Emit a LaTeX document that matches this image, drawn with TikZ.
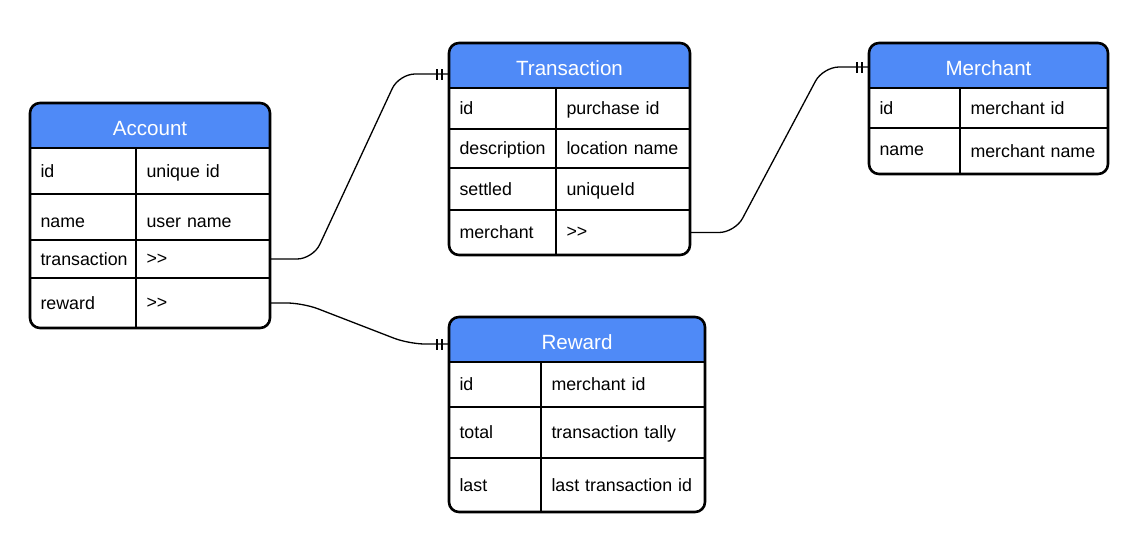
\documentclass[tikz,border=0pt]{standalone}
\usepackage{fontspec}
\setmainfont{Liberation Sans}
\usepackage{tikz}
\usetikzlibrary{positioning, fit, backgrounds, decorations.markings}
\definecolor{headblue}{RGB}{79,138,247}
\tikzset{
  header/.style = {
    rectangle,
    minimum height=45pt,
    inner sep=0pt,
    outer sep=0pt,
    text=white,
    text height=20pt,
    text depth=0pt,
    font=\fontsize{20.6pt}{24pt}\selectfont
  },
  cell/.style = {
    rectangle,
    inner xsep=10.5pt,
    inner ysep=0pt,
    outer sep=0pt,
    align=left,
    text depth=0pt,
    font=\fontsize{17.8pt}{21pt}\selectfont,
    execute at begin node={\hyphenpenalty=10000\relax}
  },
  keycell/.style = {cell, text width=#1},
  valcell/.style = {cell, text width=#1},
  tablebox/.style = {
    draw=black,
    line width=2.6pt,
    rounded corners=10pt,
    inner sep=0pt,
    outer sep=0pt
  },
  rowline/.style = {
    draw=black,
    line width=1.3pt
  },
  relation/.style = {
    draw=black,
    line width=1.3pt,
    rounded corners=16pt,
    postaction={decorate},
    decoration={markings,
      mark=at position -12pt with {\draw[line width=1.2pt] (0,-5.5pt) -- (0,5.5pt);},
      mark=at position -7pt with {\draw[line width=1.2pt] (0,-5.5pt) -- (0,5.5pt);}
    }
  }
}

\begin{document}
\begin{tikzpicture}[x=1pt, y=-1pt]

\useasboundingbox (0,0) rectangle (1138,547);
\begin{pgfonlayer}{background}
  \fill[white] (0,0) rectangle (1138,547);
\end{pgfonlayer}

% ===== Account =====
\node (acc) [header, minimum width=240pt, anchor=north west] at (30,103) {Account};
\node (acc-k1) [keycell=85pt, minimum height=46pt, below right=0pt and 0pt of acc.south west] {id};
\node (acc-v1) [valcell=113pt, minimum height=46pt, right=0pt of acc-k1] {unique id};
\node (acc-k2) [keycell=85pt, minimum height=46pt, text height=21pt, below right=0pt and 0pt of acc-k1.south west] {name};
\node (acc-v2) [valcell=113pt, minimum height=46pt, text height=21pt, right=0pt of acc-k2] {user name};
\node (acc-k3) [keycell=85pt, minimum height=38pt, below right=0pt and 0pt of acc-k2.south west] {transaction};
\node (acc-v3) [valcell=113pt, minimum height=38pt, right=0pt of acc-k3] {>{}>};
\node (acc-k4) [keycell=85pt, minimum height=50pt, below right=0pt and 0pt of acc-k3.south west] {reward};
\node (acc-v4) [valcell=113pt, minimum height=50pt, right=0pt of acc-k4] {>{}>};

\begin{pgfonlayer}{background}
  \begin{scope}
    \clip[rounded corners=10pt] (acc.north west) rectangle (acc-v4.south east);
    \fill[headblue] (acc.north west) rectangle (acc.south east);
  \end{scope}
\end{pgfonlayer}
\draw[rowline] (acc-k1.north west) -- (acc-v1.north east);
\draw[rowline] (acc-k2.north west) -- (acc-v2.north east);
\draw[rowline] (acc-k3.north west) -- (acc-v3.north east);
\draw[rowline] (acc-k4.north west) -- (acc-v4.north east);
\draw[rowline] (acc-k1.north east) -- (acc-k4.south east);
\node (acc-box) [tablebox, fit=(acc)(acc-v4)] {};

% ===== Transaction =====
\node (trn) [header, minimum width=241pt, anchor=north west] at (449,43) {Transaction};
\node (trn-k1) [keycell=86pt, minimum height=41pt, below right=0pt and 0pt of trn.south west] {id};
\node (trn-v1) [valcell=113pt, minimum height=41pt, right=0pt of trn-k1] {purchase id};
\node (trn-k2) [keycell=86pt, minimum height=39pt, below right=0pt and 0pt of trn-k1.south west] {description};
\node (trn-v2) [valcell=113pt, minimum height=39pt, right=0pt of trn-k2] {location name};
\node (trn-k3) [keycell=86pt, minimum height=42pt, below right=0pt and 0pt of trn-k2.south west] {settled};
\node (trn-v3) [valcell=113pt, minimum height=42pt, right=0pt of trn-k3] {uniqueId};
\node (trn-k4) [keycell=86pt, minimum height=45pt, below right=0pt and 0pt of trn-k3.south west] {merchant};
\node (trn-v4) [valcell=113pt, minimum height=45pt, right=0pt of trn-k4] {>{}>};

\begin{pgfonlayer}{background}
  \begin{scope}
    \clip[rounded corners=10pt] (trn.north west) rectangle (trn-v4.south east);
    \fill[headblue] (trn.north west) rectangle (trn.south east);
  \end{scope}
\end{pgfonlayer}
\draw[rowline] (trn-k1.north west) -- (trn-v1.north east);
\draw[rowline] (trn-k2.north west) -- (trn-v2.north east);
\draw[rowline] (trn-k3.north west) -- (trn-v3.north east);
\draw[rowline] (trn-k4.north west) -- (trn-v4.north east);
\draw[rowline] (trn-k1.north east) -- (trn-k4.south east);
\node (trn-box) [tablebox, fit=(trn)(trn-v4)] {};

% ===== Merchant =====
\node (mer) [header, minimum width=239pt, anchor=north west] at (869,43) {Merchant};
\node (mer-k1) [keycell=70pt, minimum height=40pt, below right=0pt and 0pt of mer.south west] {id};
\node (mer-v1) [valcell=127pt, minimum height=40pt, right=0pt of mer-k1] {merchant id};
\node (mer-k2) [keycell=70pt, minimum height=46pt, below right=0pt and 0pt of mer-k1.south west] {name};
\node (mer-v2) [valcell=127pt, minimum height=46pt, right=0pt of mer-k2] {merchant name};

\begin{pgfonlayer}{background}
  \begin{scope}
    \clip[rounded corners=10pt] (mer.north west) rectangle (mer-v2.south east);
    \fill[headblue] (mer.north west) rectangle (mer.south east);
  \end{scope}
\end{pgfonlayer}
\draw[rowline] (mer-k1.north west) -- (mer-v1.north east);
\draw[rowline] (mer-k2.north west) -- (mer-v2.north east);
\draw[rowline] (mer-k1.north east) -- (mer-k2.south east);
\node (mer-box) [tablebox, fit=(mer)(mer-v2)] {};

% ===== Reward =====
\node (rwd) [header, minimum width=256pt, anchor=north west] at (449,317) {Reward};
\node (rwd-k1) [keycell=71pt, minimum height=45pt, below right=0pt and 0pt of rwd.south west] {id};
\node (rwd-v1) [valcell=143pt, minimum height=45pt, right=0pt of rwd-k1] {merchant id};
\node (rwd-k2) [keycell=71pt, minimum height=51pt, below right=0pt and 0pt of rwd-k1.south west] {total};
\node (rwd-v2) [valcell=143pt, minimum height=51pt, right=0pt of rwd-k2] {transaction tally};
\node (rwd-k3) [keycell=71pt, minimum height=54pt, below right=0pt and 0pt of rwd-k2.south west] {last};
\node (rwd-v3) [valcell=143pt, minimum height=54pt, right=0pt of rwd-k3] {last transaction id};

\begin{pgfonlayer}{background}
  \begin{scope}
    \clip[rounded corners=10pt] (rwd.north west) rectangle (rwd-v3.south east);
    \fill[headblue] (rwd.north west) rectangle (rwd.south east);
  \end{scope}
\end{pgfonlayer}
\draw[rowline] (rwd-k1.north west) -- (rwd-v1.north east);
\draw[rowline] (rwd-k2.north west) -- (rwd-v2.north east);
\draw[rowline] (rwd-k3.north west) -- (rwd-v3.north east);
\draw[rowline] (rwd-k1.north east) -- (rwd-k3.south east);
\node (rwd-box) [tablebox, fit=(rwd)(rwd-v3)] {};

% ===== Relations =====
\draw[relation] (acc-v3.east) -- ++(43,0) -- ([xshift=-50pt, yshift=-8.5pt]trn.west) -- ([yshift=-8.5pt]trn.west);
\draw[relation] (acc-v4.east) -- ++(33,0) -- ([xshift=-40pt, yshift=-4.5pt]rwd.west) -- ([yshift=-4.5pt]rwd.west);
\draw[relation] (trn-v4.east) -- ++(45,0) -- ([xshift=-46pt, yshift=-1.5pt]mer.west) -- ([yshift=-1.5pt]mer.west);

\end{tikzpicture}
\end{document}
